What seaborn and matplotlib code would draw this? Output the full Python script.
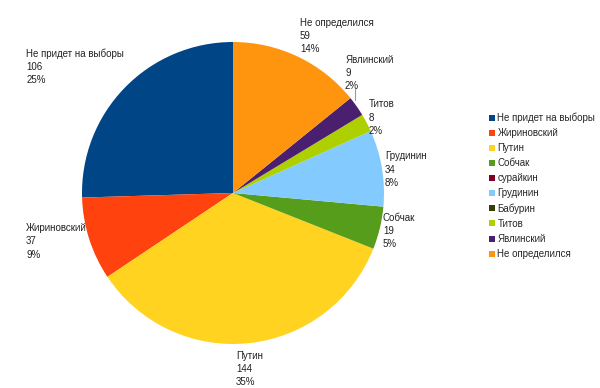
"""Pie chart: election poll responses."""

import matplotlib
matplotlib.use("Agg")
import matplotlib.pyplot as plt
from matplotlib.lines import Line2D
import numpy as np
import seaborn as sns

NAMES = [
    "Не придет на выборы",
    "Жириновский",
    "Путин",
    "Собчак",
    "сурайкин",
    "Грудинин",
    "Бабурин",
    "Титов",
    "Явлинский",
    "Не определился",
]
COUNTS = [106, 37, 144, 19, 0, 34, 0, 8, 9, 59]
COLORS = [
    "#004586", "#FF420E", "#FFD320", "#579D1C", "#7E0021",
    "#83CAFF", "#314004", "#AECF00", "#4B1F6F", "#FF950E",
]

# label anchor (top-left of text) in pie-radius units, by slice name
LABEL_POS = {
    "Не придет на выборы": (-1.37, 0.96),
    "Жириновский": (-1.37, -0.20),
    "Путин": (0.02, -1.045),
    "Собчак": (0.993, -0.13),
    "Грудинин": (1.007, 0.275),
    "Титов": (0.90, 0.62),
    "Явлинский": (0.742, 0.915),
    "Не определился": (0.444, 1.16),
}

sns.set_theme(style="white")
plt.rcParams["font.family"] = ["Liberation Sans", "DejaVu Sans"]

fig = plt.figure(figsize=(6, 3.88), dpi=100)
r_px = 151
cx, cy = 233, 193
ax = fig.add_axes([(cx - r_px) / 600, (388 - cy - r_px) / 388, 2 * r_px / 600, 2 * r_px / 388])

ax.pie(
    COUNTS,
    colors=COLORS,
    startangle=90,
    counterclock=True,
    radius=1,
    wedgeprops={"linewidth": 0},
)
ax.set_xlim(-1, 1)
ax.set_ylim(-1, 1)
ax.set_aspect("equal")
ax.axis("off")

total = sum(COUNTS)
for name, count in zip(NAMES, COUNTS):
    if count == 0:
        continue
    x, y = LABEL_POS[name]
    pct = round(100 * count / total)
    ax.text(x, y, f"{name}\n{count}\n{pct}%", ha="left", va="top",
            fontsize=7, color="#222222", linespacing=1.4, clip_on=False)

# leader line for the small Явлинский slice
cum = np.cumsum([0] + COUNTS)
i = NAMES.index("Явлинский")
mid = np.deg2rad(90 + 360 * (cum[i] + cum[i + 1]) / 2 / total)
ex, ey = np.cos(mid), np.sin(mid)
ax.plot([ex - 0.01, ex - 0.01], [ey + 0.04, 0.69], color="#999999", lw=0.8, clip_on=False)

handles = [Line2D([], [], marker="s", linestyle="none", markersize=5,
                  markerfacecolor=c, markeredgewidth=0) for c in COLORS]
fig.legend(handles, NAMES, loc="upper left", bbox_to_anchor=(0.808, 0.72),
           frameon=False, fontsize=7, handlelength=0.6, handletextpad=0.3,
           labelspacing=0.52, borderaxespad=0)

fig.savefig("out.png", dpi=100, facecolor="white")
